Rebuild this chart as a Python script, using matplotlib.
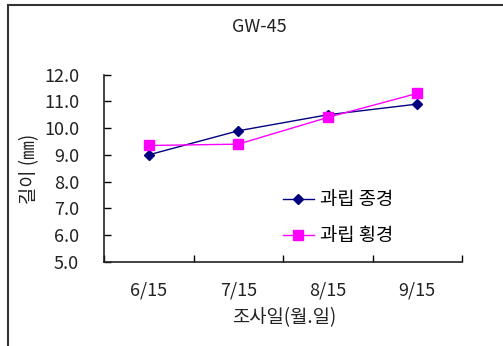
import matplotlib
matplotlib.use("Agg")
import matplotlib.pyplot as plt
from matplotlib.patches import Rectangle
import numpy as np

plt.rcParams['font.family'] = ['Noto Sans CJK KR', 'DejaVu Sans']

dates = ["6/15", "7/15", "8/15", "9/15"]
longitudinal = [9.0, 9.9, 10.5, 10.9]   # 과립 종경
transverse = [9.35, 9.4, 10.4, 11.3]    # 과립 횡경
y_ticks = [5.0, 6.0, 7.0, 8.0, 9.0, 10.0, 11.0, 12.0]

fig = plt.figure(figsize=(5.03, 3.46), dpi=100)
fig.patch.set_facecolor("white")

# outer frame around the chart area
fig.add_artist(Rectangle((8 / 503, -0.1), 1.2, 1.1 - 5 / 346,
                         transform=fig.transFigure, fill=False,
                         edgecolor="#333333", linewidth=1.5))

ax = fig.add_axes([104 / 503, 1 - 261.7 / 346, 358 / 503, 187 / 346])
x = np.arange(len(dates))
ax.plot(x, longitudinal, color="#000080", marker="D", markersize=5,
        linewidth=1.0, label="과립 종경")
ax.plot(x, transverse, color="#FF00FF", marker="s", markersize=6.5,
        linewidth=1.0, label="과립 횡경")

ax.set_xlim(-0.5, len(dates) - 0.5)
ax.set_ylim(5.0, 12.0)
ax.set_yticks(y_ticks)
ax.set_yticklabels([f"{v:.1f}" for v in y_ticks], fontsize=13, color="#222222")
ax.set_xticks(x)
ax.set_xticklabels(dates, fontsize=13, color="#222222")
ax.set_xticks(np.arange(-0.5, len(dates)), minor=True)
ax.tick_params(axis="x", which="major", length=0, pad=14)
ax.tick_params(axis="x", which="minor", direction="in", length=5, width=1)
ax.tick_params(axis="y", direction="in", length=5, width=1, pad=18)

for s in ["top", "right"]:
    ax.spines[s].set_visible(False)
for s in ["left", "bottom"]:
    ax.spines[s].set_linewidth(1.2)
    ax.spines[s].set_color("#222222")

fig.text(259 / 503, 1 - 27 / 346, "GW-45", ha="center", va="center",
         fontsize=13, color="#222222")
fig.text(30 / 503, 1 - 169 / 346, "길이 (㎜)", ha="center", va="center",
         rotation=90, fontsize=13.5, color="#222222")
fig.text(284 / 503, 1 - 318 / 346, "조사일(월.일)", ha="center", va="center",
         fontsize=13.5, color="#222222")

ax.legend(loc="center left", bbox_to_anchor=((283 - 104) / 358, (261.7 - 218) / 187),
          frameon=False, fontsize=13.5, handlelength=1.65, handletextpad=0.3,
          labelspacing=0.8, borderaxespad=0, borderpad=0)

fig.savefig("out.png", dpi=100)
